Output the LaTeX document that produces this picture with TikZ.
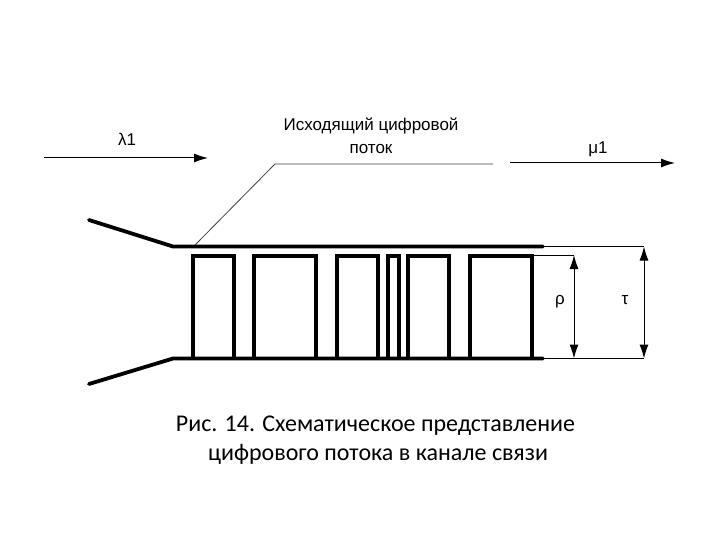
\documentclass[tikz,border=0pt]{standalone}
\usepackage{fontspec}
\setmainfont{Liberation Sans}
\newfontfamily\capfont{Carlito}
\usetikzlibrary{arrows.meta}
\tikzset{
  bus/.style={line width=3.8pt,line cap=round},
  slotbox/.style={line width=3.6pt,line join=miter},
  thinline/.style={line width=1pt,black},
  leader/.style={line width=0.8pt,black!75},
  flow/.style={line width=1pt,-{Latex[length=14pt,width=9pt]}},
  dimline/.style={line width=1pt,{Latex[length=14pt,width=9pt]}-{Latex[length=14pt,width=9pt]}},
  lab/.style={font=\fontsize{17}{20}\selectfont,inner sep=0pt,align=center},
  captext/.style={font=\capfont\fontsize{24}{29}\selectfont,inner sep=0pt,align=center},
}
\begin{document}
\begin{tikzpicture}[x=1pt,y=-1pt]
\useasboundingbox (0,0) rectangle (720,540);
% bus and wings
\coordinate (wt) at (89,220);
\coordinate (wb) at (89,384);
\coordinate (tl) at (173,246.5);
\coordinate (tr) at (543,246.5);
\coordinate (bl) at (173,358.5);
\coordinate (br) at (543,358.5);
\draw[bus] (wt) -- (tl) -- (tr);
\draw[bus] (wb) -- (bl) -- (br);
% slots
\foreach \n/\a/\b in {s1/193/234,s2/254/316,s3/337/378,s4/388/399,s5/408/449,s6/470/532}{
  \draw[slotbox] (\a,358) -- (\a,256) -- (\b,256) -- (\b,358);
}
% extension lines
\coordinate (tauT) at (644,246.5);
\coordinate (tauB) at (644,358.5);
\coordinate (rhoT) at (574,255);
\coordinate (rhoB) at (574,358.5);
\coordinate (rhoS) at (533,255);
\draw[thinline] (tr) -- (tauT);
\draw[thinline] (br) -- (tauB);
\draw[thinline] (rhoS) -- (rhoT);
\draw[dimline] (rhoT) -- (rhoB);
\draw[dimline] (tauT) -- (tauB);
\node[lab] (rho) at (560,302) {ρ};
\node[lab] (tau) at (625,300) {τ};
% flows
\coordinate (la) at (44,158);
\coordinate (lb) at (208,158);
\coordinate (ma) at (510,163);
\coordinate (mb) at (675,163);
\draw[flow] (la) -- (lb);
\draw[flow] (ma) -- (mb);
\node[lab] (lam) at (127,139) {λ1};
\node[lab] (mu) at (598,149) {μ1};
% leader
\coordinate (p0) at (195,245);
\coordinate (p1) at (275,164);
\coordinate (p2) at (493,164);
\draw[leader] (p0) -- (p1) -- (p2);
\node[lab] (title) at (371,136) {Исходящий цифровой\\[3pt]поток};
\node[captext] (caption) at (375.5,440) {Рис. 14. Схематическое представление\\\hspace*{5pt}цифрового потока в канале связи};
\end{tikzpicture}
\end{document}
